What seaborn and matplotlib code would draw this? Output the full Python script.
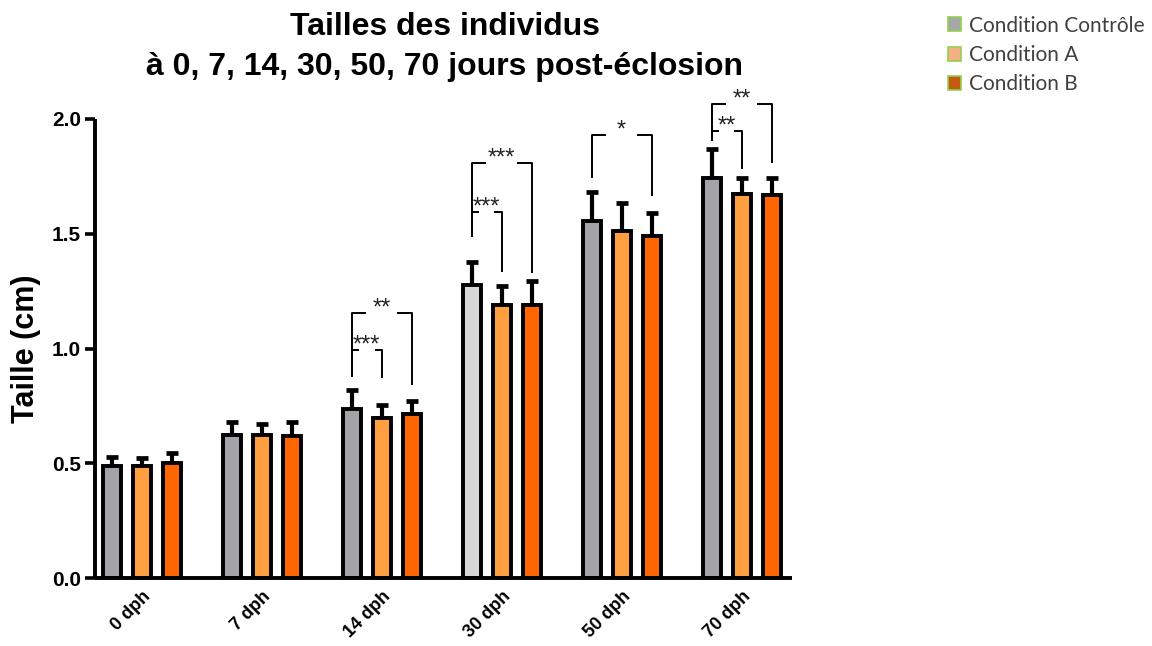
import matplotlib
matplotlib.use("Agg")
import matplotlib.pyplot as plt
from matplotlib.patches import Patch
import seaborn as sns
import pandas as pd
import numpy as np

# --- data -------------------------------------------------------------
days = ["0 dph", "7 dph", "14 dph", "30 dph", "50 dph", "70 dph"]
conditions = ["Condition Contrôle", "Condition A", "Condition B"]

ctrl_mean = [0.49, 0.623, 0.735, 1.278, 1.557, 1.742]
a_mean = [0.49, 0.623, 0.695, 1.19, 1.51, 1.673]
b_mean = [0.50, 0.620, 0.715, 1.19, 1.49, 1.667]

ctrl_sd = [0.037, 0.058, 0.082, 0.10, 0.124, 0.127]
a_sd = [0.033, 0.050, 0.060, 0.083, 0.124, 0.071]
b_sd = [0.045, 0.058, 0.058, 0.105, 0.102, 0.078]

# significance brackets: (day, bar left, bar right, height, left leg end, right leg end, label)
brackets = [
    (2, 0, 2, 1.155, 0.876, 0.841, "**"),
    (2, 0, 1, 0.993, 0.876, 0.871, "***"),
    (3, 0, 2, 1.810, 1.486, 1.330, "***"),
    (3, 0, 1, 1.596, 1.486, 1.335, "***"),
    (4, 0, 2, 1.930, 1.743, 1.664, "*"),
    (5, 0, 2, 2.065, 1.904, 1.808, "**"),
    (5, 0, 1, 1.948, 1.904, 1.782, "**"),
]

bar_colors = ["#a2a2a8", "#ffa040", "#ff6600"]
legend_colors = ["#a6a6a6", "#f4b183", "#c55a11"]

# --- style ------------------------------------------------------------
sns.set_style("ticks")
plt.rcParams["font.family"] = ["Liberation Sans", "DejaVu Sans"]
plt.rcParams["text.color"] = "black"
plt.rcParams["xtick.color"] = "black"
plt.rcParams["ytick.color"] = "black"
plt.rcParams["axes.edgecolor"] = "black"

df = pd.DataFrame({
    "jour": days * 3,
    "condition": np.repeat(conditions, len(days)),
    "taille": ctrl_mean + a_mean + b_mean,
})

fig = plt.figure(figsize=(11.52, 6.46), dpi=100)
ax = fig.add_axes([95 / 1152, 68 / 646, (792 - 95) / 1152, (578 - 119) / 646])

sns.barplot(data=df, x="jour", y="taille", hue="condition", order=days,
            hue_order=conditions, palette=bar_colors, saturation=1,
            width=0.75, gap=0.4, edgecolor="black", linewidth=2.8,
            errorbar=None, legend=False, ax=ax, zorder=2)

# lighter control bar at 30 dph
ax.containers[0][3].set_facecolor("#d8d8d8")

# upper error bars
centers = []
for cont, means, sds in zip(ax.containers, [ctrl_mean, a_mean, b_mean],
                            [ctrl_sd, a_sd, b_sd]):
    xs = [p.get_x() + p.get_width() / 2 for p in cont]
    centers.append(xs)
    ax.errorbar(xs, means, yerr=[np.zeros(len(sds)), sds], fmt="none",
                ecolor="black", elinewidth=3, capsize=4.5, capthick=3.4,
                zorder=1)

# significance brackets
for day, i, j, y, yl, yr, label in brackets:
    x0, x1 = centers[i][day], centers[j][day]
    xm = (x0 + x1) / 2
    half_gap = 0.26 * (x1 - x0)
    kw = dict(color="black", lw=1.4, clip_on=False, solid_capstyle="butt")
    ax.plot([x0, x0, xm - half_gap], [yl, y, y], **kw)
    ax.plot([xm + half_gap, x1, x1], [y, y, yr], **kw)
    ax.annotate(label, (xm, y), xytext=(0, 3), textcoords="offset points",
                ha="center", va="center", fontsize=17, color="#222222",
                annotation_clip=False)

# axes
ax.set_xlim(-0.39, 5.42)
ax.set_ylim(0, 2.0)
ax.set_yticks([0, 0.5, 1.0, 1.5, 2.0])
ax.set_yticklabels(["0.0", "0.5", "1.0", "1.5", "2.0"], fontweight="bold",
                   fontsize=15)
ax.tick_params(axis="y", length=7, width=2.6, pad=3)
ax.tick_params(axis="x", length=0, pad=7)
ax.set_xticks(range(len(days)))
ax.set_xticklabels(days, rotation=45, ha="right", va="top",
                   rotation_mode="anchor", fontweight="bold", fontsize=13)
ax.set_xlabel("")
ax.set_ylabel("")
for s in ["top", "right"]:
    ax.spines[s].set_visible(False)
for s in ["left", "bottom"]:
    ax.spines[s].set_linewidth(2.8)
    ax.spines[s].set_capstyle("butt")
ax.grid(False)

fig.text(26 / 1152, 1 - 349 / 646, "Taille (cm)", rotation=90, ha="center",
         va="center", fontsize=22, fontweight="bold")

fig.text(445 / 1152, 1 - 47 / 646,
         "Tailles des individus\nà 0, 7, 14, 30, 50, 70 jours post-éclosion",
         ha="center", va="center", fontsize=23, fontweight="bold",
         linespacing=1.45)

handles = [Patch(facecolor=c, edgecolor="#92d050", linewidth=1.2)
           for c in legend_colors]
fig.legend(handles, conditions, loc="upper left",
           bbox_to_anchor=(929 / 1152, 1 + 3 / 646), frameon=False,
           prop={"family": "Lato", "size": 15}, labelcolor="#404040",
           handlelength=0.65, handleheight=0.65, handletextpad=0.35,
           labelspacing=0.45)

fig.savefig("out.png", dpi=100)
